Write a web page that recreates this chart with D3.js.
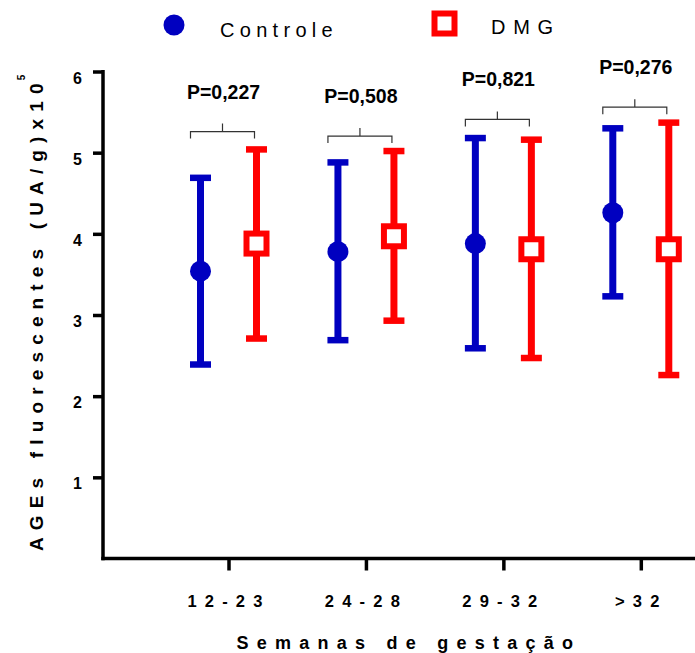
<!doctype html>
<html>
<head>
    <meta charset="UTF-8">
    <title>AGEs fluorescentes</title>
    <script src="https://d3js.org/d3.v7.min.js"></script>
    <style>
        body{ margin:0; background:#fff; }
        text{ font-family:"Liberation Sans", Arial, sans-serif; fill:#000; }
    </style>
</head>
<body>
    <svg width="695" height="653" id="svg1"></svg>

    <script>
        // valores (media e barras de erro)
        var categories = ["12-23", "24-28", "29-32", ">32"];
        var controleMean  = [3.54, 3.78, 3.88, 4.26];
        var controleUpper = [4.69, 4.88, 5.18, 5.30];
        var controleLower = [2.39, 2.69, 2.59, 3.23];
        var dmgMean  = [3.88, 3.97, 3.81, 3.81];
        var dmgUpper = [5.04, 5.02, 5.16, 5.37];
        var dmgLower = [2.71, 2.93, 2.47, 2.26];
        var pLabels = ["P=0,227", "P=0,508", "P=0,821", "P=0,276"];
        var bracketLevel = [5.26, 5.205, 5.41, 5.56];
        var yTicks = [1, 2, 3, 4, 5, 6];
        var seriesNames = ["Controle", "DMG"];

        var blue = "#0000c0", red = "#ff0000";
        var left = 103, right = 695;

        var svg = d3.select("#svg1");

        var y = d3.scaleLinear().domain([0, 6]).range([558.5, 71.5]);
        var x = d3.scalePoint().domain(categories).range([228.5, 640.8]);
        var off = 28;

        // eixos
        var yAxis = svg.append("g")
            .attr("transform", "translate(" + left + ",0)")
            .call(d3.axisLeft(y).tickValues(yTicks).tickFormat(d3.format("d"))
                    .tickSize(10).tickPadding(11));
        yAxis.select(".domain").remove();
        yAxis.selectAll("line").attr("stroke", "#000").attr("stroke-width", 3.5);
        yAxis.selectAll("text")
            .attr("dy", "11.5px")
            .style("font-size", "16px")
            .style("font-weight", "bold");

        var xAxis = svg.append("g")
            .attr("transform", "translate(0," + y(0) + ")")
            .call(d3.axisBottom(x).tickSize(12).tickPadding(25));
        xAxis.select(".domain").remove();
        xAxis.selectAll("line").attr("stroke", "#000").attr("stroke-width", 3.5);
        xAxis.selectAll("text")
            .style("font-size", "16.5px")
            .style("font-weight", "bold")
            .style("letter-spacing", "8.2px");

        svg.append("line")
            .attr("x1", left).attr("x2", left)
            .attr("y1", y(6) - 1.5).attr("y2", y(0) + 1.75)
            .attr("stroke", "#000").attr("stroke-width", 3.5);
        svg.append("line")
            .attr("x1", left - 1.75).attr("x2", right)
            .attr("y1", y(0)).attr("y2", y(0))
            .attr("stroke", "#000").attr("stroke-width", 3.5);

        // titulos
        svg.append("text")
            .attr("x", 236.6).attr("y", 648.5)
            .style("font-size", "18px").style("font-weight", "bold")
            .style("letter-spacing", "8.24px")
            .text("Semanas de gestação");

        var yt = svg.append("text")
            .attr("transform", "translate(43,551) rotate(-90)")
            .style("font-size", "19px").style("font-weight", "bold")
            .style("letter-spacing", "7.15px");
        yt.append("tspan").text("AGEs fluorescentes (UA/g)x10");
        yt.append("tspan").attr("dx", -4).attr("dy", -18)
            .style("font-size", "10px").text("5");

        // barras de erro
        function drawSeries(mean, upper, lower, dx, color){
            var g = svg.append("g");
            g.selectAll(".bar").data(categories).enter().append("line")
                .attr("x1", function(d){ return x(d) + dx; })
                .attr("x2", function(d){ return x(d) + dx; })
                .attr("y1", function(d, i){ return y(upper[i]); })
                .attr("y2", function(d, i){ return y(lower[i]); })
                .attr("stroke", color).attr("stroke-width", 7);
            [upper, lower].forEach(function(arr){
                g.selectAll(null).data(categories).enter().append("line")
                    .attr("x1", function(d){ return x(d) + dx - 10.5; })
                    .attr("x2", function(d){ return x(d) + dx + 10.5; })
                    .attr("y1", function(d, i){ return y(arr[i]); })
                    .attr("y2", function(d, i){ return y(arr[i]); })
                    .attr("stroke", color).attr("stroke-width", 6.5);
            });
            return g;
        }

        var gC = drawSeries(controleMean, controleUpper, controleLower, -off, blue);
        gC.selectAll("circle").data(categories).enter().append("circle")
            .attr("cx", function(d){ return x(d) - off; })
            .attr("cy", function(d, i){ return y(controleMean[i]); })
            .attr("r", 10.5)
            .attr("fill", blue);

        var gD = drawSeries(dmgMean, dmgUpper, dmgLower, off, red);
        gD.selectAll("rect").data(categories).enter().append("rect")
            .attr("x", function(d){ return x(d) + off - 10; })
            .attr("y", function(d, i){ return y(dmgMean[i]) - 10; })
            .attr("width", 20).attr("height", 20)
            .attr("fill", "#fff")
            .attr("stroke", red).attr("stroke-width", 6);

        // chaves e valores de P
        categories.forEach(function(c, i){
            var cx = x(c) - 6, by = y(bracketLevel[i]);
            var p = "M" + (cx - 32) + "," + (by + 7) +
                    "L" + (cx - 32) + "," + by +
                    "L" + (cx + 32) + "," + by +
                    "L" + (cx + 32) + "," + (by + 7) +
                    "M" + cx + "," + by + "L" + cx + "," + (by - 8);
            svg.append("path").attr("d", p)
                .attr("fill", "none").attr("stroke", "#333").attr("stroke-width", 1.2);
            svg.append("text")
                .attr("x", x(c) - 5).attr("y", by - 33)
                .attr("text-anchor", "middle")
                .style("font-size", "19.5px").style("font-weight", "bold")
                .text(pLabels[i]);
        });

        // legenda
        var legend = svg.append("g");
        legend.append("circle")
            .attr("cx", 174).attr("cy", 25).attr("r", 10.5).attr("fill", blue);
        legend.append("text")
            .attr("x", 220).attr("y", 36.5)
            .style("font-size", "20px").style("letter-spacing", "5.3px")
            .text(seriesNames[0]);
        legend.append("rect")
            .attr("x", 434.5).attr("y", 13.5).attr("width", 20).attr("height", 20)
            .attr("fill", "#fff").attr("stroke", red).attr("stroke-width", 6);
        legend.append("text")
            .attr("x", 491).attr("y", 34)
            .style("font-size", "20px").style("letter-spacing", "7.7px")
            .text(seriesNames[1]);
    </script>
</body>
</html>
